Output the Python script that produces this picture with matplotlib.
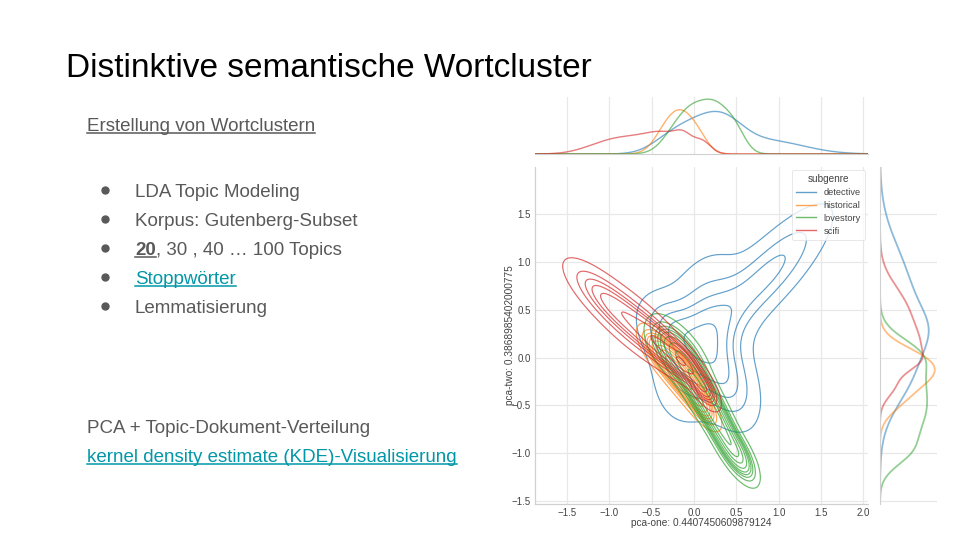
import numpy as np
import matplotlib
matplotlib.use("Agg")
import matplotlib.pyplot as plt
from matplotlib.lines import Line2D

plt.rcParams['font.family'] = ['Liberation Sans', 'DejaVu Sans']

# ---------------- slide text ----------------
title = "Distinktive semantische Wortcluster"
subtitle = "Erstellung von Wortclustern"
bullet_items = ["LDA Topic Modeling", "Korpus: Gutenberg-Subset", None, "Stoppwörter", "Lemmatisierung"]
topics_bold = "20"
topics_rest = ", 30 , 40 … 100 Topics"
pca_line = "PCA + Topic-Dokument-Verteilung"
kde_line = "kernel density estimate (KDE)-Visualisierung"

# ---------------- chart data ----------------
genres = ["detective", "historical", "lovestory", "scifi"]
genre_colors = ["#1f77b4", "#ff7f0e", "#2ca02c", "#d62728"]
genre_share = [1.15, 0.53, 1.0, 0.65]

# density components per subgenre: (mean_x, mean_y, sd_x, sd_y, rho, weight)
detective_components = [
    (0.1, 0.2, 0.3, 0.45, 0.3, 0.45),
    (0.88, 0.88, 0.42, 0.4, 0.82, 0.27),
    (0.4, -0.25, 0.22, 0.3, -0.4, 0.15),
    (-0.3, 0.3, 0.22, 0.22, -0.3, 0.1),
]
historical_components = [
    (-0.3, -0.02, 0.15, 0.15, -0.75, 0.45),
    (-0.12, -0.22, 0.13, 0.14, -0.7, 0.35),
    (0.05, -0.45, 0.12, 0.14, -0.75, 0.2),
]
lovestory_components = [
    (-0.2, 0.05, 0.17, 0.17, -0.6, 0.2),
    (0.05, -0.3, 0.18, 0.25, -0.85, 0.4),
    (0.3, -0.7, 0.15, 0.22, -0.85, 0.28),
    (0.5, -1.0, 0.12, 0.15, -0.7, 0.12),
]
scifi_components = [
    (-1.05, 0.62, 0.26, 0.22, -0.8, 0.2),
    (-0.65, 0.32, 0.28, 0.23, -0.78, 0.33),
    (-0.32, 0.08, 0.2, 0.17, -0.8, 0.25),
    (-0.12, -0.06, 0.1, 0.1, -0.6, 0.1),
    (0.1, -0.3, 0.1, 0.12, -0.7, 0.1),
]
components_by_genre = [detective_components, historical_components,
                       lovestory_components, scifi_components]

x_ticks = [-1.5, -1.0, -0.5, 0.0, 0.5, 1.0, 1.5, 2.0]
y_ticks = [-1.5, -1.0, -0.5, 0.0, 0.5, 1.0, 1.5]
x_label = "pca-one: 0.4407450609879124"
y_label = "pca-two: 0.3868985402000775"
legend_title = "subgenre"

# ---------------- helpers ----------------
def gauss2(X, Y, mx, my, sx, sy, rho):
    zx = (X - mx) / sx
    zy = (Y - my) / sy
    q = (zx ** 2 - 2 * rho * zx * zy + zy ** 2) / (1 - rho ** 2)
    return np.exp(-q / 2) / (2 * np.pi * sx * sy * np.sqrt(1 - rho ** 2))

def gauss1(x, m, s):
    return np.exp(-0.5 * ((x - m) / s) ** 2) / (s * np.sqrt(2 * np.pi))

def mixture2(X, Y, comps):
    tot = sum(c[5] for c in comps)
    return sum(c[5] / tot * gauss2(X, Y, *c[:5]) for c in comps)

def marginal(v, comps, axis):
    tot = sum(c[5] for c in comps)
    if axis == 0:
        return sum(c[5] / tot * gauss1(v, c[0], c[2]) for c in comps)
    return sum(c[5] / tot * gauss1(v, c[1], c[3]) for c in comps)

def iso_levels(Z, iso):
    vals = np.sort(Z.ravel())[::-1]
    cum = np.cumsum(vals) / vals.sum()
    idx = np.searchsorted(cum, 1 - np.asarray(iso))
    return np.take(vals, idx, mode="clip")

W, H = 960, 540
fig = plt.figure(figsize=(W / 100, H / 100), dpi=100)
fig.patch.set_facecolor("white")

GRID = "#e8e8e8"
SPINE = "#d0d0d0"
TICKC = "#444444"

ax = fig.add_axes([535 / W, 36 / H, 333 / W, 337 / H])
axt = fig.add_axes([535 / W, (H - 154) / H, 333 / W, 57 / H], sharex=ax)
axr = fig.add_axes([880 / W, 36 / H, 57 / W, 337 / H], sharey=ax)

xlim = (-1.875, 2.055)
ylim = (-1.53, 1.99)
gx = np.linspace(-2.2, 2.4, 360)
gy = np.linspace(-1.9, 2.3, 340)
GX, GY = np.meshgrid(gx, gy)
iso = np.linspace(0.05, 1, 10)

# common-normalised densities and shared iso-proportion levels
tot_share = sum(genre_share)
dens = [s / tot_share * mixture2(GX, GY, c) for s, c in zip(genre_share, components_by_genre)]
levels = iso_levels(np.concatenate([d.ravel() for d in dens]), iso)[:-1]
levels = np.unique(levels)

top_curves = []
right_curves = []
for name, col, share, comps, Z in zip(genres, genre_colors, genre_share, components_by_genre, dens):
    ax.contour(GX, GY, Z, levels=levels, colors=[col], linewidths=0.85, alpha=0.7)
    tc = share * marginal(gx, comps, 0)
    rc = share * marginal(gy, comps, 1)
    top_curves.append(tc)
    right_curves.append(rc)
    axt.plot(gx, tc, color=col, lw=1.0, alpha=0.6)
    axr.plot(rc, gy, color=col, lw=1.3, alpha=0.5)

ax.set_xlim(*xlim)
ax.set_ylim(*ylim)
ax.set_xticks(x_ticks)
ax.set_yticks(y_ticks)
ax.set_xticklabels([f"{t:.1f}".replace("-", "\u2212") for t in x_ticks])
ax.set_yticklabels([f"{t:.1f}".replace("-", "\u2212") for t in y_ticks])
ax.tick_params(length=0, labelsize=7, colors=TICKC, pad=3)
ax.grid(True, color=GRID, lw=0.9)
ax.set_axisbelow(True)
for s in ["top", "right"]:
    ax.spines[s].set_visible(False)
for s in ["left", "bottom"]:
    ax.spines[s].set_color(SPINE)
    ax.spines[s].set_linewidth(0.9)
ax.set_xlabel(x_label, fontsize=7.3, color=TICKC, labelpad=0)
ax.set_ylabel(y_label, fontsize=7.3, color=TICKC, labelpad=-2.5)

handles = [Line2D([], [], color=c, lw=1.0, alpha=0.7) for c in genre_colors]
leg = ax.legend(handles, genres, title=legend_title, loc="upper right", fontsize=6.7,
                title_fontsize=7.2, frameon=True, borderaxespad=0.3, handlelength=2.2,
                labelspacing=0.42, borderpad=0.45)
leg.get_frame().set_edgecolor("#dddddd")
leg.get_frame().set_linewidth(0.6)
for t in leg.get_texts():
    t.set_color("#444444")
leg.get_title().set_color("#444444")

tmax = max(c.max() for c in top_curves)
axt.set_ylim(0, tmax * 1.04)
rmax = max(c.max() for c in right_curves)
axr.set_xlim(0, rmax * 1.04)
for a in (axt, axr):
    a.tick_params(length=0, labelbottom=False, labelleft=False)
    for s in a.spines.values():
        s.set_visible(False)
axt.spines["bottom"].set_visible(True)
axt.spines["bottom"].set_color(SPINE)
axr.spines["left"].set_visible(True)
axr.spines["left"].set_color(SPINE)
axt.grid(True, axis="x", color=GRID, lw=0.9)
axt.grid(False, axis="y")
axr.grid(True, axis="y", color=GRID, lw=0.9)
axr.grid(False, axis="x")
axt.set_axisbelow(True)
axr.set_axisbelow(True)
plt.setp(axt.get_xticklabels(), visible=False)
plt.setp(axr.get_yticklabels(), visible=False)

# ---------------- slide text ----------------
GRAY = "#595959"
TEAL = "#0097a7"
X0 = 87 / W
XT = 135 / W
XB = 105 / W
FS = 13.5

def fy(py):
    return (H - py) / H

fig.canvas.draw()
renderer = fig.canvas.get_renderer()

def underline(t, py, color, lw=1.1):
    bb = t.get_window_extent(renderer)
    y = fy(py + 2)
    fig.add_artist(Line2D([bb.x0 / W, bb.x1 / W], [y, y], transform=fig.transFigure,
                          color=color, lw=lw))

fig.text(66 / W, fy(77), title, fontsize=24, color="#000000", va="baseline", ha="left")
t = fig.text(X0, fy(131), subtitle, fontsize=FS, color=GRAY, va="baseline")
underline(t, 131, GRAY)

baselines = [197, 226, 255, 284, 313]
for i, (item, b) in enumerate(zip(bullet_items, baselines)):
    fig.add_artist(Line2D([XB], [fy(b - 7)], transform=fig.transFigure, marker="o",
                          ms=5, color=GRAY, mec=GRAY, lw=0))
    if item is None:
        tb = fig.text(XT, fy(b), topics_bold, fontsize=FS, color=GRAY, va="baseline",
                      fontweight="bold")
        bb = tb.get_window_extent(renderer)
        underline(tb, b, GRAY)
        fig.text(bb.x1 / W, fy(b), topics_rest, fontsize=FS, color=GRAY, va="baseline")
    elif item == "Stoppwörter":
        ts = fig.text(XT, fy(b), item, fontsize=FS, color=TEAL, va="baseline")
        underline(ts, b, TEAL)
    else:
        fig.text(XT, fy(b), item, fontsize=FS, color=GRAY, va="baseline")

fig.text(X0, fy(433), pca_line, fontsize=FS, color=GRAY, va="baseline")
tk = fig.text(X0, fy(462), kde_line, fontsize=FS, color=TEAL, va="baseline")
underline(tk, 462, TEAL)

fig.savefig("out.png", dpi=100, facecolor="white")
